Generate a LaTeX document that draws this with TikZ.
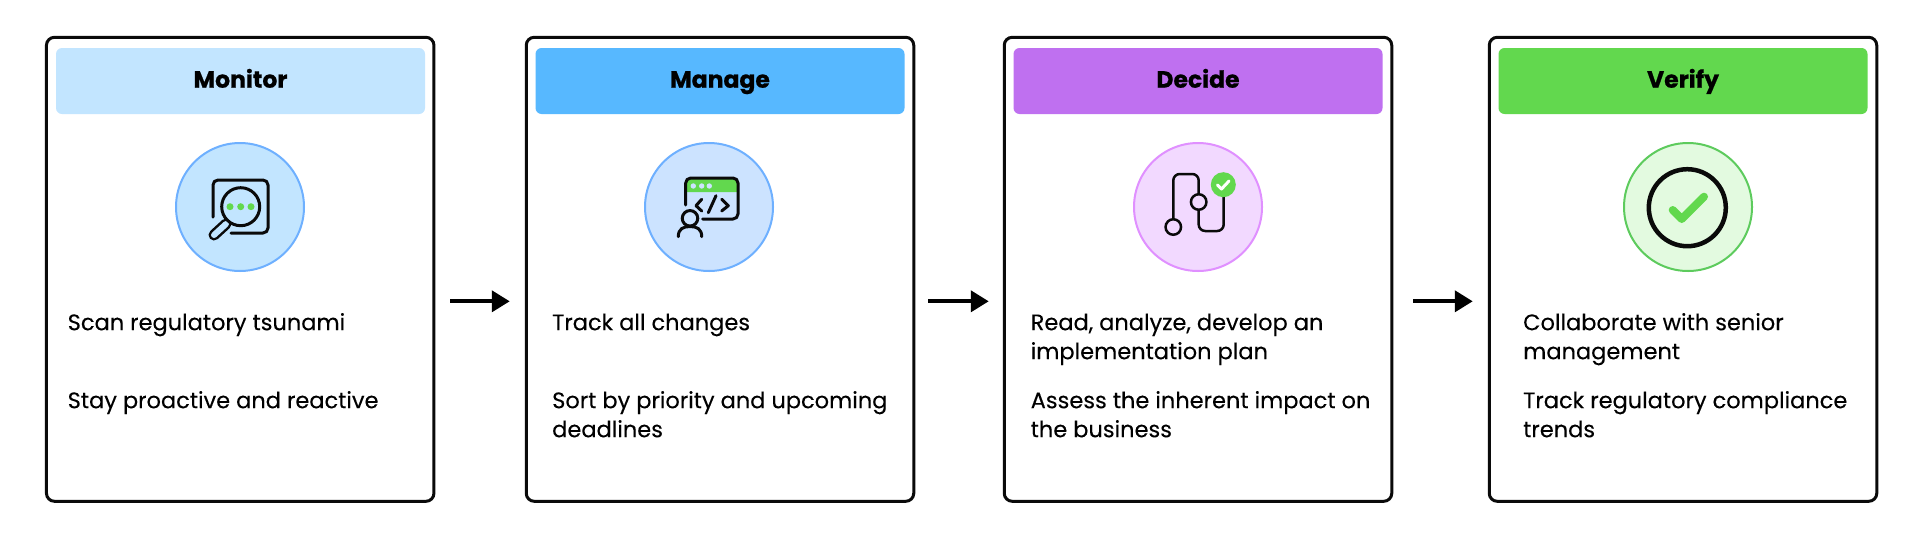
\documentclass[tikz,border=0pt]{standalone}
\usepackage{fontspec}
\setmainfont[FakeBold=0.15]{Poppins}
\newfontfamily\headfont[BoldFeatures={FakeBold=0.8}]{Poppins}
\usetikzlibrary{arrows.meta}
\definecolor{hA}{HTML}{C2E5FF}
\definecolor{hB}{HTML}{57B8FF}
\definecolor{hC}{HTML}{BF70F0}
\definecolor{hD}{HTML}{62D84E}
\definecolor{cA}{HTML}{C2E5FF}
\definecolor{cB}{HTML}{CCE3FF}
\definecolor{cC}{HTML}{F2D9FF}
\definecolor{cD}{HTML}{E3FAE0}
\definecolor{bA}{HTML}{6EB0FF}
\definecolor{bC}{HTML}{E090FF}
\definecolor{bD}{HTML}{5DCB5D}
\definecolor{gr}{HTML}{62D84E}
\definecolor{ink}{HTML}{0A0A0A}
\tikzset{
  panel/.style={draw=ink,line width=3pt,rounded corners=8pt,fill=white,minimum width=387.5pt,minimum height=464pt,inner sep=0},
  header/.style={rounded corners=6pt,minimum width=369pt,minimum height=66pt,inner sep=0},
  title/.style={anchor=base,inner sep=0,font=\fontsize{23.5}{28}\selectfont\headfont\bfseries},
  badge/.style={circle,line width=2pt,minimum size=128pt,inner sep=0},
  body/.style={anchor=north west,inner sep=0,align=left,font=\fontsize{22.5}{29}\selectfont},
  flow/.style={line width=4pt,-{Triangle[length=18pt,width=21pt]}},
  icon/.style={line width=3pt,draw=ink,line cap=round,line join=round},
  ring/.style={circle,draw=ink,inner sep=0},
  dot/.style={circle,fill=gr,inner sep=0,minimum size=7pt},
}
\begin{document}
\begin{tikzpicture}[x=1pt,y=-1pt]
\useasboundingbox (0,0) rectangle (1932,544);
% panels
\node[panel] (p1) at (240.2,269.3) {};
\node[panel] (p2) at (720,269.3) {};
\node[panel] (p3) at (1198,269.3) {};
\node[panel] (p4) at (1683,269.3) {};
% headers
\node[header,fill=hA] (h1) at (240.5,81) {};
\node[header,fill=hB] (h2) at (720,81) {};
\node[header,fill=hC] (h3) at (1198,81) {};
\node[header,fill=hD] (h4) at (1683,81) {};
\node[title] (t1) at (240.5,87.7) {Monitor};
\node[title] (t2) at (720,87.7) {Manage};
\node[title] (t3) at (1198,87.7) {Decide};
\node[title] (t4) at (1683,87.7) {Verify};
% badges
\node[badge,fill=cA,draw=bA] (c1) at (240,207) {};
\node[badge,fill=cB,draw=bA] (c2) at (709,207) {};
\node[badge,fill=cC,draw=bC] (c3) at (1198,207) {};
\node[badge,fill=cD,draw=bD] (c4) at (1688,207) {};
% body text
\node[body] (a1) at (67.5,309.7) {\strut Scan regulatory tsunami};
\node[body] (a2) at (67.5,387.7) {\strut Stay proactive and reactive};
\node[body] (b1) at (552,309.7) {\strut Track all changes};
\node[body] (b2) at (552,387.7) {\strut Sort by priority and upcoming\\deadlines};
\node[body] (d1) at (1030.5,309.7) {\strut Read, analyze, develop an\\implementation plan};
\node[body] (d2) at (1030.5,387.7) {\strut Assess the inherent impact on\\the business};
\node[body] (e1) at (1523,309.7) {\strut Collaborate with senior\\management};
\node[body] (e2) at (1523,387.7) {\strut Track regulatory compliance\\trends};
% arrows
\draw[flow] ([xshift=15pt,yshift=-32pt]p1.east) -- ([xshift=-15pt,yshift=-32pt]p2.west);
\draw[flow] ([xshift=13pt,yshift=-32pt]p2.east) -- ([xshift=-14pt,yshift=-32pt]p3.west);
\draw[flow] ([xshift=20pt,yshift=-32pt]p3.east) -- ([xshift=-15pt,yshift=-32pt]p4.west);
% monitor icon
\draw[icon,rounded corners=5pt] (213,217) -- (213,180) -- (268,180) -- (268,233) -- (231,233);
\draw[line width=11pt,draw=ink,line cap=round] (226,224) -- (214,235);
\draw[line width=6pt,draw=hA,line cap=round] (226,224) -- (214,235);
\node[ring,fill=hA,line width=3pt,minimum size=38pt] (lens) at (240.7,206.7) {};
\node[dot] (m1) at (230,206.7) {};
\node[dot] (m2) at (240.7,206.7) {};
\node[dot] (m3) at (251,206.7) {};
% manage icon
\fill[gr,rounded corners=5pt] (685.7,192) [sharp corners] -- (685.7,192) [rounded corners=5pt] -- (685.7,178) -- (738,178) [sharp corners] -- (738,192) -- cycle;
\draw[icon,rounded corners=5pt] (685.7,205) -- (685.7,178) -- (738,178) -- (738,219) -- (702.7,219);
\foreach \x in {693.3,701.7,709.3} \fill[cB] (\x,186) circle (2.7pt);
\draw[icon] (701.7,199.3) -- (696,205.7) -- (701.7,211);
\draw[icon] (721.7,199.3) -- (728.3,205.7) -- (721.7,211);
\draw[icon] (716,195.7) -- (708.3,212.7);
\node[ring,fill=cB,line width=3pt,minimum size=15.5pt] (head) at (690,218.3) {};
\draw[icon] (678.3,236.7) .. controls (678.3,229) and (683,226.5) .. (690,226.5) .. controls (697,226.5) and (701.7,229) .. (701.7,236.7);
% decide icon
\draw[icon,line width=2.5pt,rounded corners=6.5pt] (1173.3,227) -- (1173.3,174) -- (1198.7,174) -- (1198.7,231) -- (1223.7,231) -- (1223.7,185);
\node[ring,fill=cC,line width=2.5pt,minimum size=15.5pt] (k1) at (1173.3,227) {};
\node[ring,fill=cC,line width=2.5pt,minimum size=15.5pt] (k2) at (1198.7,202) {};
\node[circle,fill=gr,inner sep=0,minimum size=25pt] (k3) at (1223.3,184.7) {};
\draw[line width=3pt,draw=white,line cap=round,line join=round] (1217.5,185) -- (1221.5,189) -- (1229,181);
% verify icon
\node[ring,line width=4.5pt,minimum size=77pt] (v) at (1687.3,207.7) {};
\draw[line width=8pt,draw=gr,line cap=round,line join=round] (1672.7,210) -- (1681.7,219) -- (1704,196.7);
\end{tikzpicture}
\end{document}
